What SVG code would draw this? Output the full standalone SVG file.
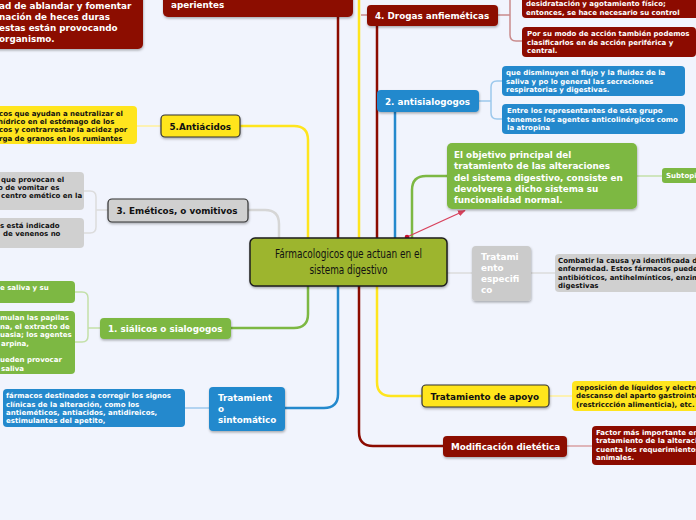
<svg xmlns="http://www.w3.org/2000/svg" width="696" height="520" viewBox="0 0 696 520">
<defs>
<filter id="sh" x="-10%" y="-10%" width="120%" height="130%"><feDropShadow dx="0.5" dy="1.5" stdDeviation="1" flood-color="#000" flood-opacity="0.3"/></filter>
<marker id="ah" viewBox="0 0 10 10" refX="9" refY="5" markerWidth="6" markerHeight="6" orient="auto"><path d="M0 1 L10 5 L0 9 Z" fill="#d8415c"/></marker>
<style>
.t{font-family:"DejaVu Sans","Liberation Sans",sans-serif;font-weight:bold;font-size:8.8px;fill:#fff}
.s{font-family:"DejaVu Sans","Liberation Sans",sans-serif;font-weight:bold;font-size:7px;fill:#fff}
.k{fill:#111}
.red{fill:#8c0b00}.blue{fill:#2489cd}.green{fill:#7db843}.yel{fill:#ffe51e}.gray{fill:#d0d0d0}
.bd{stroke:#333;stroke-width:1.2}
.c{fill:none;stroke-width:2.5}
.l{fill:none;stroke-width:1.5}
</style>
</defs>
<rect width="696" height="520" fill="#f1f4fd"/>
<g id="connectors">
<path class="c" stroke="#ffe51e" d="M308 238 V140 Q308 126 294 126 H240"/>
<path class="c" stroke="#d6d6d6" d="M279 238 V224 Q279 210 265 210 H248"/>
<path class="c" stroke="#8c0b00" d="M338 238 V17"/>
<path class="c" stroke="#ffe51e" d="M359 238 V0"/>
<path class="c" stroke="#8c0b00" d="M377 238 V26"/>
<path class="c" stroke="#2489cd" d="M395 238 V112"/>
<path class="c" stroke="#7db843" d="M412 238 V190 Q412 176 426 176 H447"/>
<path class="c" stroke="#7db843" d="M308 286 V314 Q308 328 294 328 H231"/>
<path class="c" stroke="#2489cd" d="M338 286 V394 Q338 408 324 408 H285"/>
<path class="c" stroke="#8c0b00" d="M359 286 V432 Q359 446 373 446 H443"/>
<path class="c" stroke="#ffe51e" d="M377 286 V382 Q377 396 391 396 H422"/>
<path class="l" stroke="#dcdcdc" d="M447 273 H472 M531 273 H555"/>
<path class="l" stroke="#c98a8c" d="M361 15 H367 M498 15 H510 M510 -5 V35 Q510 41 516 41 H522"/>
<path class="l" stroke="#9cc8ec" d="M479 101 H491 M502 81 H497 Q491 81 491 87 V113 Q491 119 497 119 H502"/>
<path class="l" stroke="#c3e0a8" d="M637 176 H662"/>
<path class="l" stroke="#fff09a" d="M549 396 H572 M161 126 H137"/>
<path class="l" stroke="#d9a0a2" d="M567 446 H592"/>
<path class="l" stroke="#9cc8ec" d="M185 408 H209"/>
<path class="l" stroke="#c3e0a8" d="M100 328 H88 M75 292 H82 Q88 292 88 298 V336 Q88 342 82 342 H75"/>
<path class="l" stroke="#dcdcdc" d="M108 210 H96 M84 191 H90 Q96 191 96 197 V227 Q96 233 90 233 H84"/>
<line x1="407" y1="237" x2="465" y2="210.5" stroke="#d8415c" stroke-width="1.3" marker-end="url(#ah)"/>
<circle cx="407" cy="237" r="2.3" fill="#c8102e"/>
</g>
<g id="central">
<rect x="250" y="238" width="197" height="48" rx="5" fill="#9db52e" stroke="#1e1e1e" stroke-width="1.5" filter="url(#sh)"/>
<text x="348.5" y="258" text-anchor="middle" font-family="DejaVu Sans Condensed,DejaVu Sans,sans-serif" font-stretch="condensed" font-size="12.5" fill="#111" textLength="147" lengthAdjust="spacingAndGlyphs">Fármacologicos que actuan en el</text>
<text x="348.5" y="274" text-anchor="middle" font-family="DejaVu Sans Condensed,DejaVu Sans,sans-serif" font-stretch="condensed" font-size="12.5" fill="#111" textLength="78" lengthAdjust="spacingAndGlyphs">sistema digestivo</text>
</g>
<g id="n-topleft">
<rect class="red" x="-10" y="-20" width="153" height="69" rx="5" filter="url(#sh)"/>
<text class="t" font-size="9" x="-1" y="9">ad de ablandar y fomentar</text>
<text class="t" font-size="9" x="-1" y="20">nación de heces duras</text>
<text class="t" font-size="9" x="-1" y="31">estas están provocando</text>
<text class="t" font-size="9" x="-1" y="42"> organismo.</text>
</g>
<g id="n-aperientes">
<rect class="red" x="163" y="-30" width="190" height="47" rx="5" filter="url(#sh)"/>
<text class="t" font-size="9" x="171" y="8">aperientes</text>
</g>
<g id="n-drogas">
<rect class="red" x="367" y="5" width="131" height="21" rx="4" filter="url(#sh)"/>
<text class="t" x="375" y="19" font-size="8.3">4. Drogas anfieméticas</text>
</g>
<g id="n-drogas-1">
<rect class="red" x="522" y="-20" width="180" height="38" rx="4"/>
<text class="s" x="526" y="6">desidratación y agotamiento físico;</text>
<text class="s" x="526" y="14.5">entonces, se hace necesario su control</text>
</g>
<g id="n-drogas-2">
<rect class="red" x="522" y="27" width="174" height="30" rx="4"/>
<text class="s" x="527" y="36">Por su modo de acción también podemos</text>
<text class="s" x="527" y="44.5">clasificarlos en de acción periférica y</text>
<text class="s" x="527" y="53">central.</text>
</g>
<g id="n-antisialogogos">
<rect class="blue" x="377" y="90" width="102" height="22" rx="4" filter="url(#sh)"/>
<text class="t" x="385" y="104.5">2. antisialogogos</text>
</g>
<g id="n-anti-1">
<rect class="blue" x="502" y="66" width="183" height="30" rx="4"/>
<text class="s" x="506" y="75">que disminuyen el flujo y la fluidez de la</text>
<text class="s" x="506" y="83.5">saliva y po lo general las secreciones</text>
<text class="s" x="506" y="92">respiratorias y digestivas.</text>
</g>
<g id="n-anti-2">
<rect class="blue" x="502" y="104" width="183" height="30" rx="4"/>
<text class="s" x="507" y="113">Entre los representantes de este grupo</text>
<text class="s" x="507" y="121.5">tenemos los agentes anticolinérgicos como</text>
<text class="s" x="507" y="130">la atropina</text>
</g>
<g id="n-objetivo">
<rect class="green" x="447" y="143" width="190" height="66" rx="5" filter="url(#sh)"/>
<text class="t" font-size="9" x="454" y="158">El objetivo principal del</text>
<text class="t" font-size="9" x="454" y="169">tratamiento de las alteraciones</text>
<text class="t" font-size="9" x="454" y="180.5">del sistema digestivo, consiste en</text>
<text class="t" font-size="9" x="454" y="191.5">devolvere a dicho sistema su</text>
<text class="t" font-size="9" x="454" y="202.5">funcionalidad normal.</text>
</g>
<g id="n-subtopic">
<rect class="green" x="662" y="168" width="40" height="15" rx="3"/>
<text class="s" x="666" y="178">Subtopic</text>
</g>
<g id="n-antiacidos">
<rect class="yel bd" x="161" y="115" width="79" height="22" rx="4" filter="url(#sh)"/>
<text class="t k" x="169.5" y="129.5">5.Antiácidos</text>
</g>
<g id="n-antiacidos-1">
<rect class="yel" x="-10" y="106" width="147" height="38" rx="4"/>
<text class="s k" x="-1" y="115.5">cos que ayudan a neutralizar el</text>
<text class="s k" x="-2" y="124">hídrico en el estómago de los</text>
<text class="s k" x="-1" y="132">cos y contrarrestar la acidez por</text>
<text class="s k" x="-1" y="140.5">rga de granos en los rumiantes</text>
</g>
<g id="n-emeticos">
<rect class="gray bd" x="108" y="199" width="140" height="23" rx="4" filter="url(#sh)"/>
<text class="t k" x="116.5" y="214">3. Eméticos, o vomitivos</text>
</g>
<g id="n-emeticos-1">
<rect class="gray" x="-10" y="172" width="94" height="38" rx="4"/>
<text class="s k" x="1" y="181.5">que provocan el</text>
<text class="s k" x="-2" y="189.5">o de vomitar es</text>
<text class="s k" x="1" y="198">centro emético en la</text>
</g>
<g id="n-emeticos-2">
<rect class="gray" x="-10" y="218" width="94" height="30" rx="4"/>
<text class="s k" x="0" y="228">s está indicado</text>
<text class="s k" x="3" y="236">de venenos no</text>
</g>
<g id="n-especifico">
<rect x="472" y="246" width="59" height="55" rx="4" fill="#cbcbcb" filter="url(#sh)"/>
<text class="t" font-size="9" x="481" y="260">Tratami</text>
<text class="t" font-size="9" x="481" y="271">ento</text>
<text class="t" font-size="9" x="481" y="282">especifi</text>
<text class="t" font-size="9" x="481" y="293">co</text>
</g>
<g id="n-especifico-1">
<rect class="gray" x="555" y="254" width="150" height="38" rx="4"/>
<text class="s k" x="558" y="263">Combatir la causa ya identificada d</text>
<text class="s k" x="558" y="271">enfermedad. Estos fármacos puede</text>
<text class="s k" x="558" y="279.5">antibióticos, antihelmínticos, enzim</text>
<text class="s k" x="558" y="287.5">digestivas</text>
</g>
<g id="n-sialicos">
<rect class="green" x="100" y="318" width="131" height="21" rx="4" filter="url(#sh)"/>
<text class="t" x="108" y="332">1. siálicos o sialogogos</text>
</g>
<g id="n-sialicos-1">
<rect class="green" x="-10" y="281" width="85" height="22" rx="4"/>
<text class="s" x="0" y="290">e saliva y su</text>
</g>
<g id="n-sialicos-2">
<rect class="green" x="-10" y="311" width="85" height="63" rx="4"/>
<text class="s" x="0" y="320">mulan las papilas</text>
<text class="s" x="0" y="328.5">na, el extracto de</text>
<text class="s" x="0" y="337">uasia; los agentes</text>
<text class="s" x="1" y="345.5">arpina,</text>
<text class="s" x="0" y="362">ueden provocar</text>
<text class="s" x="1" y="370.5">saliva</text>
</g>
<g id="n-sintomatico">
<rect class="blue" x="209" y="387" width="76" height="44" rx="4" filter="url(#sh)"/>
<text class="t" font-size="9" x="218" y="401">Tratamient</text>
<text class="t" font-size="9" x="218" y="412">o</text>
<text class="t" font-size="9" x="218" y="423">sintomático</text>
</g>
<g id="n-sintomatico-1">
<rect class="blue" x="3" y="389" width="182" height="38" rx="4"/>
<text class="s" x="6" y="398">fármacos destinados a corregir los signos</text>
<text class="s" x="6" y="406.5">clínicas de la alteración, como los</text>
<text class="s" x="6" y="415">antieméticos, antiacidos, antidireicos,</text>
<text class="s" x="6" y="423">estimulantes del apetito,</text>
</g>
<g id="n-apoyo">
<rect class="yel bd" x="422" y="385" width="127" height="22" rx="4" filter="url(#sh)"/>
<text class="t k" x="430.5" y="399.5">Tratamiento de apoyo</text>
</g>
<g id="n-apoyo-1">
<rect class="yel" x="572" y="381" width="130" height="30" rx="4"/>
<text class="s k" x="576" y="390">reposición de líquidos y electro</text>
<text class="s k" x="576" y="398">descanso del aparto gastrointe</text>
<text class="s k" x="576" y="406.5">(restriccción alimenticia), etc.</text>
</g>
<g id="n-dietetica">
<rect class="red" x="443" y="436" width="124" height="21" rx="4" filter="url(#sh)"/>
<text class="t" x="451" y="450">Modificación dietética</text>
</g>
<g id="n-dietetica-1">
<rect class="red" x="592" y="426" width="110" height="39" rx="4"/>
<text class="s" x="596" y="435">Factor más importante en</text>
<text class="s" x="596" y="443">tratamiento de la alteraci</text>
<text class="s" x="596" y="451.5">cuenta los requerimientos</text>
<text class="s" x="596" y="460">animales.</text>
</g>
</svg>
